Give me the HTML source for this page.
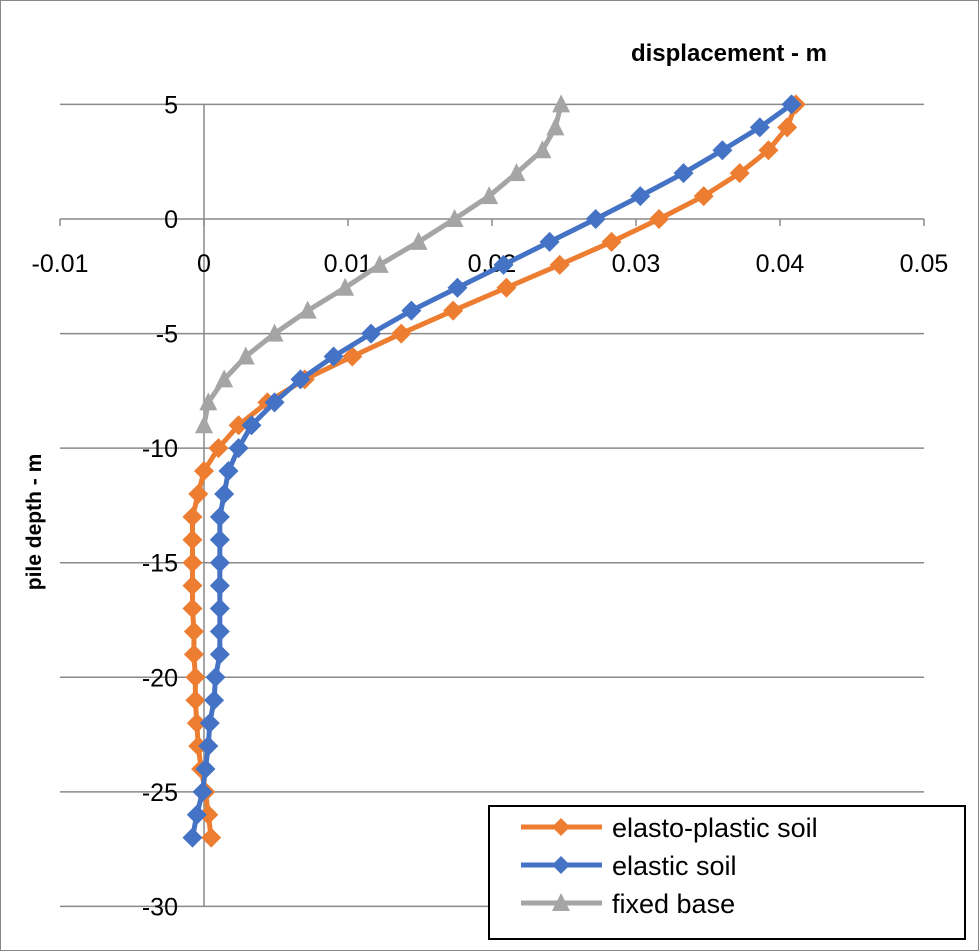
<!DOCTYPE html>
<html><head><meta charset="utf-8"><style>
body{margin:0;background:#fff;}
svg{display:block;font-family:"Liberation Sans",sans-serif;}
</style></head><body>
<svg id="chart" width="979" height="951" xmlns="http://www.w3.org/2000/svg">
<rect x="0.5" y="0.5" width="978" height="950" fill="#fff" stroke="#888"/>
<g id="grid"></g><g id="axes"></g><g id="series"></g>
<text x="729" y="61" font-size="24" font-weight="bold" text-anchor="middle">displacement - m</text>
<text transform="translate(41,522) rotate(-90)" font-size="21" font-weight="bold" text-anchor="middle">pile depth - m</text>
<g>
<rect x="489" y="806" width="476" height="133" fill="#fff" stroke="#000" stroke-width="2"/>
<g><line x1="521" y1="827" x2="602" y2="827" stroke="#ED7D31" stroke-width="5"/><path d="M561 818 L570 827 L561 836 L552 827Z" fill="#ED7D31"/><text x="612" y="837" font-size="27">elasto-plastic soil</text></g>
<g><line x1="521" y1="865" x2="602" y2="865" stroke="#4472C4" stroke-width="5"/><path d="M561 856 L570 865 L561 874 L552 865Z" fill="#4472C4"/><text x="612" y="875" font-size="27">elastic soil</text></g>
<g><line x1="521" y1="903" x2="602" y2="903" stroke="#A5A5A5" stroke-width="5"/><path d="M561 893 L570 911 L552 911Z" fill="#A5A5A5"/><text x="612" y="913" font-size="27">fixed base</text></g>
</g>
</svg>
<script>
const depths=[5,4,3,2,1,0,-1,-2,-3,-4,-5,-6,-7,-8,-9,-10,-11,-12,-13,-14,-15,-16,-17,-18,-19,-20,-21,-22,-23,-24,-25,-26,-27];
const elastoPlastic=[0.0411,0.0405,0.0392,0.0372,0.0347,0.0316,0.0283,0.0247,0.0210,0.0173,0.0137,0.0103,0.0070,0.0044,0.0024,0.0010,0.0,-0.0004,-0.0008,-0.0008,-0.0008,-0.0008,-0.0008,-0.0007,-0.0007,-0.0006,-0.0006,-0.0005,-0.0004,-0.0002,0.0001,0.0003,0.0005];
const elastic=[0.0408,0.0386,0.0360,0.0333,0.0303,0.0272,0.0240,0.0208,0.0176,0.0144,0.0116,0.0090,0.0067,0.0049,0.0033,0.0024,0.0017,0.0014,0.0011,0.0011,0.0011,0.0011,0.0011,0.0011,0.0011,0.0008,0.0007,0.0004,0.0003,0.0001,-0.0001,-0.0005,-0.0008];
const fixedDepths=[5,4,3,2,1,0,-1,-2,-3,-4,-5,-6,-7,-8,-9];
const fixedBase=[0.0248,0.0244,0.0235,0.0217,0.0198,0.0174,0.0149,0.0122,0.0098,0.0072,0.0049,0.0029,0.0014,0.0003,0.0];
const xTicks=[-0.01,0,0.01,0.02,0.03,0.04,0.05];
const yTicks=[5,0,-5,-10,-15,-20,-25,-30];
const NS="http://www.w3.org/2000/svg";
const X=v=>204+(v)*14400;
const Y=v=>219-v*(802/35);
function mk(tag,attrs,parent){const e=document.createElementNS(NS,tag);for(const k in attrs)e.setAttribute(k,attrs[k]);parent.appendChild(e);return e;}
const grid=document.getElementById('grid'),axes=document.getElementById('axes'),ser=document.getElementById('series');
yTicks.forEach(t=>{
 const l=mk('line',{x1:60,x2:924,y1:Y(t),y2:Y(t),stroke:'#898989','stroke-width':1.5},grid);
 
 
 const tx=mk('text',{x:178,y:Y(t)+9,'font-size':25,'text-anchor':'end'},axes);tx.textContent=t;
 
 
});
const va=mk('line',{x1:X(0),x2:X(0),y1:Y(5),y2:Y(-30),stroke:'#898989','stroke-width':1.5},axes);


xTicks.forEach(t=>{
 const tk=mk('line',{x1:X(t),x2:X(t),y1:219,y2:226,stroke:'#898989','stroke-width':1.5},axes);
 
 
 const tx=mk('text',{x:X(t),y:272,'font-size':25,'text-anchor':'middle'},axes);tx.textContent=t;
 
 
});
function series(xs,ys,color,tri,name){
 const g=mk('g',{},ser);
 
 
 const pts=xs.map((v,i)=>X(v)+','+Y(ys[i])).join(' ');
 mk('polyline',{points:pts,fill:'none',stroke:color,'stroke-width':5,'stroke-linejoin':'round'},g);
 xs.forEach((v,i)=>{const x=X(v),y=Y(ys[i]);
  const d=tri?`M${x} ${y-10} L${x+9} ${y+8} L${x-9} ${y+8}Z`:`M${x} ${y-10} L${x+10} ${y} L${x} ${y+10} L${x-10} ${y}Z`;
  const p=mk('path',{d:d,fill:color},g);
  
  
 });
}
series(fixedBase,fixedDepths,'#A5A5A5',true,'series-fixed-base');
series(elastoPlastic,depths,'#ED7D31',false,'series-elasto-plastic');
series(elastic,depths,'#4472C4',false,'series-elastic');
</script>
</body></html>
